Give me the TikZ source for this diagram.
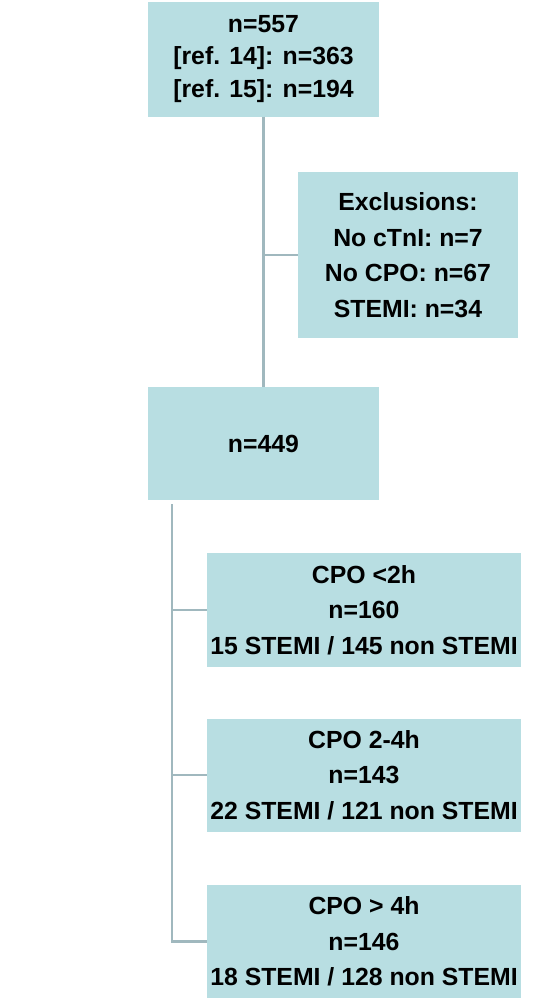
\documentclass[tikz,border=0pt]{standalone}
\usepackage{fontspec}
\setmainfont{Liberation Sans}
\usetikzlibrary{positioning,calc}

\definecolor{boxfill}{RGB}{184,222,226}
\definecolor{linkcol}{RGB}{160,184,190}

\begin{document}
\begin{tikzpicture}[x=1pt,y=-1pt,font=\fontsize{24.8}{35.5}\selectfont\bfseries,
 box/.style={fill=boxfill,align=center,inner sep=0pt,text=black},
 link/.style={draw=linkcol,line width=2.5pt}]
\useasboundingbox (0,0) rectangle (534,1005);
\node[box,minimum width=231pt,minimum height=115pt,font=\fontsize{24.8}{32.5}\selectfont\bfseries] (all) at (263.5,59) {n=557\\{}[ref. 14]: n=363\\{}[ref. 15]: n=194};
\node[box,minimum width=220pt,minimum height=166pt] (excl) at (408,255) {Exclusions:\\No cTnI: n=7\\No CPO: n=67\\STEMI: n=34};
\node[box,minimum width=231pt,minimum height=113pt] (incl) at (263.5,443.5) {n=449};
\node[box,minimum width=314pt,minimum height=114pt] (g1) at (364,610) {CPO <2h\\n=160\\15 STEMI / 145 non STEMI};
\node[box,minimum width=314pt,minimum height=113pt] (g2) at (364,775) {CPO 2-4h\\n=143\\22 STEMI / 121 non STEMI};
\node[box,minimum width=314pt,minimum height=113pt] (g3) at (364,941.5) {CPO > 4h\\n=146\\18 STEMI / 128 non STEMI};
% connectors
\draw[link] (all.south) -- (incl.north);
\draw[link] (all.south |- excl.west) -- (excl.west);
\coordinate (trunk) at (172,504);
\draw[link] (trunk) |- (g3.west);
\draw[link] (trunk |- g1.west) -- (g1.west);
\draw[link] (trunk |- g2.west) -- (g2.west);
\end{tikzpicture}
\end{document}
